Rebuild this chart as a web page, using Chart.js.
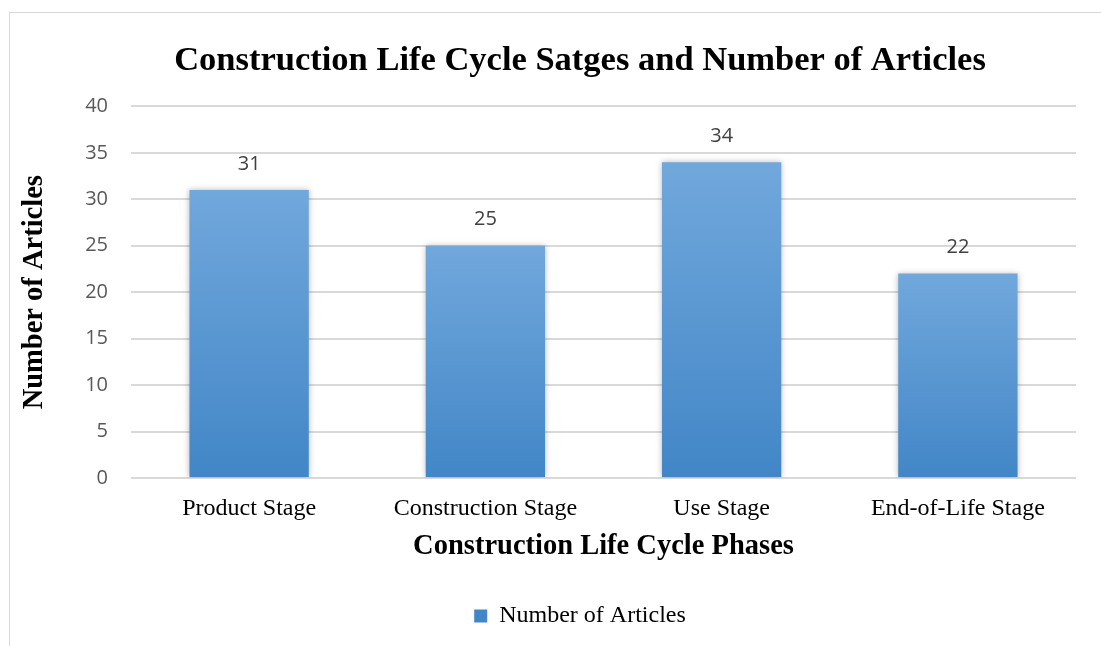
<!DOCTYPE html>
<html>
<head>
<meta charset="utf-8">
<script src="https://cdn.jsdelivr.net/npm/chart.js@4.4.0/dist/chart.umd.min.js"></script>
<style>
  html, body { margin: 0; padding: 0; background: #fff; overflow: hidden; }
  #wrap { position: absolute; left: 0; top: 0; width: 1101px; height: 646px; }
  #frame { position: absolute; left: 9px; top: 12px; width: 1200px; height: 700px;
           border: 1px solid #d9d9d9; box-sizing: border-box; pointer-events: none; }
</style>
</head>
<body>
<div id="frame"></div>
<div id="wrap"><canvas id="c" width="1101" height="646"></canvas></div>
<script>
// data
const categories = ['Product Stage', 'Construction Stage', 'Use Stage', 'End-of-Life Stage'];
const articles = [31, 25, 34, 22];
const yTicks = [0, 5, 10, 15, 20, 25, 30, 35, 40];

const SERIF = '"Liberation Serif", "Times New Roman", serif';
const SANS = '"Open Sans", "Noto Sans", sans-serif';
const BAR_TOP = '#71a8dc', BAR_BOT = '#4286c7', BAR_FLAT = '#5b9bd5';

// bar fill: light at the top of each bar, darker at the base
function barFill(ctx) {
  if (ctx.type !== 'data') return BAR_FLAT;
  const chart = ctx.chart, y = chart.scales.y;
  if (!y || !chart.chartArea) return BAR_FLAT;
  const top = y.getPixelForValue(ctx.raw), base = y.getPixelForValue(0);
  const g = chart.ctx.createLinearGradient(0, top, 0, base);
  g.addColorStop(0, BAR_TOP);
  g.addColorStop(1, BAR_BOT);
  return g;
}

const barShadow = {
  id: 'barShadow',
  beforeDatasetDraw(chart) {
    const c = chart.ctx;
    c.save();
    c.shadowColor = 'rgba(0,0,0,0.28)';
    c.shadowBlur = 6;
  },
  afterDatasetDraw(chart) { chart.ctx.restore(); }
};

const valueLabels = {
  id: 'valueLabels',
  afterDatasetsDraw(chart) {
    const c = chart.ctx;
    const meta = chart.getDatasetMeta(0);
    c.save();
    c.font = '20px ' + SANS;
    c.fillStyle = '#404040';
    c.textAlign = 'center';
    c.textBaseline = 'middle';
    meta.data.forEach((bar, i) => {
      c.fillText(String(chart.data.datasets[0].data[i]), bar.x, bar.y - 26);
    });
    c.restore();
  }
};

new Chart(document.getElementById('c'), {
  type: 'bar',
  data: {
    labels: categories,
    datasets: [{
      label: 'Number of Articles',
      data: articles,
      backgroundColor: barFill,
      borderWidth: 0,
      categoryPercentage: 1,
      barPercentage: 0.505,
    }],
  },
  options: {
    responsive: false,
    animation: false,
    events: [],
    layout: { padding: { left: 84, right: 25, top: 0, bottom: 8 } },
    plugins: {
      title: {
        display: true,
        text: 'Construction Life Cycle Satges and Number of Articles',
        color: '#000',
        font: { family: SERIF, size: 34.5, weight: 'bold' },
        padding: { top: 40, bottom: 25 },
      },
      legend: {
        position: 'bottom',
        labels: {
          color: '#000',
          font: { family: SERIF, size: 24 },
          boxWidth: 13,
          boxHeight: 13,
          padding: 10,
        },
      },
      tooltip: { enabled: false },
    },
    scales: {
      x: {
        grid: { display: false },
        border: { display: false },
        ticks: { color: '#000', font: { family: SERIF, size: 24 }, padding: 8 },
        title: {
          display: true,
          text: 'Construction Life Cycle Phases',
          color: '#000',
          font: { family: SERIF, size: 28.5, weight: 'bold' },
          padding: { top: 0, bottom: 30 },
        },
        afterFit(s) { s.height = 116; },
      },
      y: {
        min: 0,
        max: 40,
        afterBuildTicks(s) { s.ticks = yTicks.map(v => ({ value: v })); },
        grid: { color: '#d9d9d9', lineWidth: 2, drawTicks: false },
        border: { display: false },
        ticks: { color: '#595959', font: { family: SANS, size: 20 }, padding: 23 },
        title: {
          display: true,
          text: 'Number of Articles',
          color: '#000',
          font: { family: SERIF, size: 28.5, weight: 'bold' },
          padding: { top: -66, bottom: 0 },
        },
        afterFit(s) { s.width = 47; },
      },
    },
  },
  plugins: [barShadow, valueLabels],
});
</script>
</body>
</html>
